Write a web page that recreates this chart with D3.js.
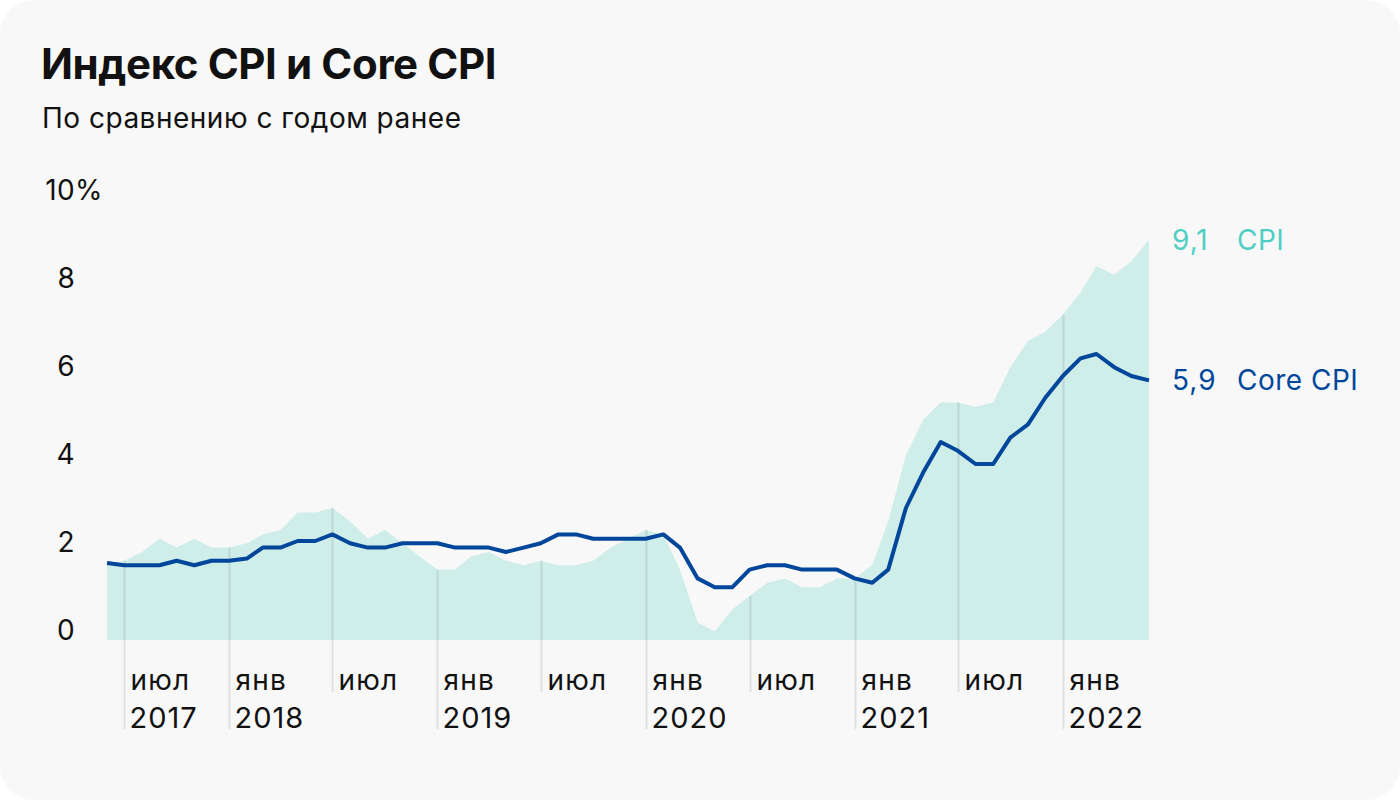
<!DOCTYPE html>
<html>
<head>
<meta charset="utf-8">
<script src="https://cdn.jsdelivr.net/npm/d3@7"></script>
<style>
  html, body { margin: 0; padding: 0; background: #ffffff; }
  svg { display: block; }
  text { font-family: Inter, "Noto Sans", sans-serif; }
</style>
</head>
<body>
<svg id="chart" width="1400" height="800"></svg>
<script>
// ---- Data (year-over-year, %) ----
const startMonth = "2017-06";
const cpiValues = [
  1.7, 1.8, 2.0, 2.3, 2.1, 2.3, 2.1,
  2.1, 2.2, 2.4, 2.5, 2.9, 2.9, 3.0, 2.7, 2.3, 2.5, 2.2, 1.9,
  1.6, 1.6, 1.9, 2.0, 1.8, 1.7, 1.8, 1.7, 1.7, 1.8, 2.1, 2.3,
  2.5, 2.4, 1.6, 0.4, 0.2, 0.7, 1.0, 1.3, 1.4, 1.2, 1.2, 1.4,
  1.4, 1.7, 2.7, 4.2, 5.0, 5.4, 5.4, 5.3, 5.4, 6.2, 6.8, 7.0,
  7.4, 7.9, 8.5, 8.3, 8.6, 9.1
];
const coreValues = [
  1.75, 1.7, 1.7, 1.7, 1.8, 1.7, 1.8,
  1.8, 1.85, 2.1, 2.1, 2.25, 2.25, 2.4, 2.2, 2.1, 2.1, 2.2, 2.2,
  2.2, 2.1, 2.1, 2.1, 2.0, 2.1, 2.2, 2.4, 2.4, 2.3, 2.3, 2.3,
  2.3, 2.4, 2.1, 1.4, 1.2, 1.2, 1.6, 1.7, 1.7, 1.6, 1.6, 1.6,
  1.4, 1.3, 1.6, 3.0, 3.8, 4.5, 4.3, 4.0, 4.0, 4.6, 4.9, 5.5,
  6.0, 6.4, 6.5, 6.2, 6.0, 5.9
];
const yTickValues = [0, 2, 4, 6, 8, 10];
const monthNames = ["янв", "фев", "мар", "апр", "май", "июн", "июл", "авг", "сен", "окт", "ноя", "дек"];
const seriesNames = ["CPI", "Core CPI"];
const endLabels = ["9,1", "5,9"];
const titleText = "Индекс CPI и Core CPI";
const subtitleText = "По сравнению с годом ранее";

// ---- Build table ----
const parseMonth = d3.timeParse("%Y-%m");
const t0 = parseMonth(startMonth);
const data = cpiValues.map((v, i) => ({
  date: d3.timeMonth.offset(t0, i),
  cpi: v,
  core: coreValues[i]
}));

const colors = { cpiArea: "#cfede9", cpiText: "#4fcfc3", core: "#00479c", grid: "rgba(0,0,0,0.09)", text: "#111111" };

const svg = d3.select("#chart");
svg.append("rect").attr("x", 0).attr("y", 0).attr("width", 1400).attr("height", 800)
  .attr("rx", 34).attr("fill", "#f8f8f8");

svg.append("text").attr("x", 41).attr("y", 79)
  .attr("font-size", 42).attr("font-weight", 700).attr("letter-spacing", -0.4)
  .attr("fill", colors.text).text(titleText);
svg.append("text").attr("x", 42).attr("y", 128)
  .attr("font-size", 28).attr("fill", colors.text).attr("letter-spacing", 0.5).text(subtitleText);

const x = d3.scaleTime()
  .domain([data[0].date, data[data.length - 1].date])
  .range([107, 1149]);
const y = d3.scaleLinear().domain([0, 10]).range([640, 200]);

// area
const area = d3.area().x(d => x(d.date)).y0(y(0)).y1(d => y(d.cpi));
svg.append("path").datum(data).attr("d", area).attr("fill", colors.cpiArea);

// y labels
const yl = svg.append("g");
yTickValues.forEach(v => {
  yl.append("text").attr("x", 75).attr("y", y(v))
    .attr("text-anchor", "end").attr("font-size", 28).attr("letter-spacing", 0.3)
    .attr("fill", colors.text).text(v);
  if (v === 10) {
    yl.append("text").attr("x", 75).attr("y", y(v))
      .attr("font-size", 28).attr("fill", colors.text).text("%");
  }
});

// x ticks
const ticks = x.ticks(d3.timeMonth.filter(d => d.getMonth() % 6 === 0));
const byTime = new Map(data.map(d => [+d.date, d]));
const gx = svg.append("g");
ticks.forEach((t, i) => {
  const hasYear = t.getMonth() === 0 || i === 0;
  const d = byTime.get(+t);
  const xx = Math.round(x(t)) + 0.5;
  gx.append("line").attr("x1", xx).attr("x2", xx)
    .attr("y1", y(d ? d.cpi : 0)).attr("y2", hasYear ? 729 : 692)
    .attr("stroke", colors.grid).attr("stroke-width", 2);
  gx.append("text").attr("x", xx + 6).attr("y", 690)
    .attr("font-size", 28).attr("letter-spacing", 1.2)
    .attr("fill", colors.text).text(monthNames[t.getMonth()]);
  if (hasYear) {
    gx.append("text").attr("x", xx + 5).attr("y", 728)
      .attr("font-size", 29).attr("letter-spacing", 1.0)
      .attr("fill", colors.text).text(d3.timeFormat("%Y")(t));
  }
});

// core line
const line = d3.line().x(d => x(d.date)).y(d => y(d.core));
svg.append("path").datum(data).attr("d", line)
  .attr("fill", "none").attr("stroke", colors.core).attr("stroke-width", 4)
  .attr("stroke-linejoin", "round");

// end labels
const last = data[data.length - 1];
[[last.cpi, colors.cpiText], [last.core, colors.core]].forEach(([v, c], i) => {
  svg.append("text").attr("x", 1172).attr("y", y(v)).attr("dy", "0.36em")
    .attr("font-size", 28).attr("letter-spacing", 1.0).attr("fill", c).text(endLabels[i]);
  svg.append("text").attr("x", 1237).attr("y", y(v)).attr("dy", "0.36em")
    .attr("font-size", 28).attr("letter-spacing", 0.5).attr("fill", c).text(seriesNames[i]);
});
</script>
</body>
</html>
